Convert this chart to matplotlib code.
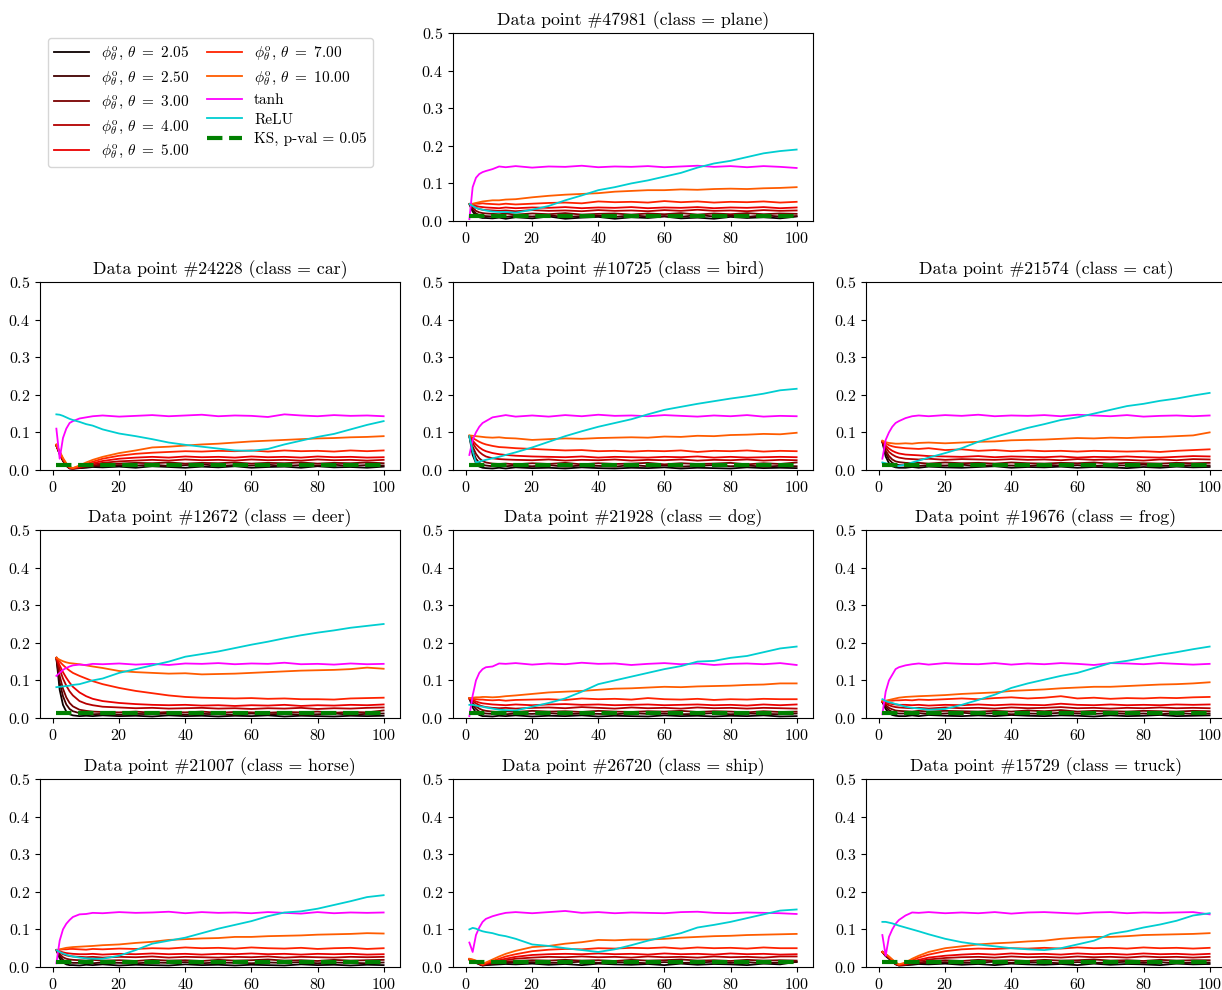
import matplotlib
matplotlib.use("Agg")
import matplotlib.pyplot as plt
import numpy as np

plt.rcParams.update({
    "font.family": "serif",
    "font.serif": ["cmr10"],
    "mathtext.fontset": "cm",
    "axes.formatter.use_mathtext": True,
    "axes.unicode_minus": False,
})

# epochs at which the distances were logged
EPOCHS = [1, 2, 3, 4, 5, 6, 8, 10, 12, 15, 20, 25, 30, 35, 40, 45, 50, 55,
          60, 65, 70, 75, 80, 85, 90, 95, 100]

POINT_IDS = [47981, 24228, 10725, 21574, 12672, 21928, 19676, 21007, 26720, 15729]
CLASSES = ["plane", "car", "bird", "cat", "deer", "dog", "frog", "horse", "ship", "truck"]
THETAS = [2.05, 2.50, 3.00, 4.00, 5.00, 7.00, 10.00]
KS_PVAL = 0.05
KS_CRIT = 0.0136

# one row per data point, same order as POINT_IDS
PHI_205 = [
    [0.045, 0.025, 0.014, 0.010, 0.008, 0.008, 0.007, 0.009, 0.006, 0.010, 0.007, 0.012, 0.006, 0.009, 0.011, 0.006, 0.010, 0.008, 0.012, 0.007, 0.009, 0.006, 0.011, 0.008, 0.010, 0.007, 0.012],
    [0.065, 0.042, 0.024, 0.011, 0.004, 0.004, 0.005, 0.006, 0.008, 0.007, 0.009, 0.006, 0.010, 0.008, 0.006, 0.009, 0.007, 0.010, 0.006, 0.008, 0.009, 0.006, 0.010, 0.007, 0.008, 0.006, 0.009],
    [0.090, 0.040, 0.018, 0.009, 0.006, 0.005, 0.004, 0.006, 0.004, 0.007, 0.005, 0.006, 0.004, 0.007, 0.005, 0.004, 0.006, 0.005, 0.007, 0.004, 0.006, 0.005, 0.004, 0.007, 0.005, 0.006, 0.005],
    [0.075, 0.036, 0.018, 0.010, 0.007, 0.006, 0.006, 0.008, 0.006, 0.009, 0.007, 0.006, 0.008, 0.010, 0.006, 0.008, 0.007, 0.009, 0.006, 0.008, 0.007, 0.005, 0.008, 0.006, 0.009, 0.007, 0.008],
    [0.160, 0.075, 0.035, 0.017, 0.010, 0.007, 0.005, 0.006, 0.005, 0.007, 0.005, 0.006, 0.004, 0.007, 0.005, 0.006, 0.004, 0.006, 0.005, 0.007, 0.004, 0.006, 0.005, 0.004, 0.006, 0.005, 0.006],
    [0.052, 0.028, 0.014, 0.008, 0.005, 0.005, 0.004, 0.006, 0.005, 0.007, 0.004, 0.006, 0.005, 0.007, 0.004, 0.006, 0.005, 0.004, 0.007, 0.005, 0.006, 0.004, 0.006, 0.005, 0.007, 0.004, 0.005],
    [0.043, 0.024, 0.013, 0.008, 0.006, 0.005, 0.005, 0.007, 0.005, 0.008, 0.006, 0.005, 0.007, 0.005, 0.008, 0.006, 0.005, 0.007, 0.006, 0.004, 0.007, 0.005, 0.006, 0.008, 0.005, 0.006, 0.007],
    [0.045, 0.023, 0.012, 0.007, 0.005, 0.005, 0.004, 0.006, 0.005, 0.007, 0.004, 0.006, 0.005, 0.004, 0.007, 0.005, 0.006, 0.004, 0.006, 0.005, 0.004, 0.007, 0.005, 0.006, 0.004, 0.006, 0.005],
    [0.020, 0.014, 0.011, 0.007, 0.004, 0.005, 0.006, 0.007, 0.008, 0.007, 0.009, 0.006, 0.008, 0.005, 0.009, 0.007, 0.006, 0.008, 0.005, 0.009, 0.006, 0.008, 0.007, 0.005, 0.009, 0.007, 0.014],
    [0.040, 0.029, 0.022, 0.014, 0.007, 0.004, 0.005, 0.006, 0.008, 0.007, 0.009, 0.006, 0.008, 0.005, 0.009, 0.007, 0.006, 0.008, 0.005, 0.009, 0.006, 0.008, 0.007, 0.005, 0.009, 0.007, 0.008],
]
PHI_250 = [
    [0.045, 0.030, 0.020, 0.016, 0.014, 0.013, 0.012, 0.013, 0.011, 0.014, 0.012, 0.015, 0.011, 0.013, 0.014, 0.011, 0.015, 0.012, 0.013, 0.011, 0.016, 0.012, 0.014, 0.011, 0.015, 0.012, 0.013],
    [0.065, 0.043, 0.025, 0.012, 0.005, 0.004, 0.005, 0.008, 0.010, 0.011, 0.013, 0.012, 0.014, 0.011, 0.013, 0.015, 0.011, 0.013, 0.012, 0.014, 0.011, 0.013, 0.012, 0.014, 0.011, 0.013, 0.012],
    [0.090, 0.052, 0.030, 0.019, 0.014, 0.012, 0.010, 0.011, 0.010, 0.012, 0.010, 0.013, 0.009, 0.012, 0.011, 0.009, 0.013, 0.010, 0.012, 0.009, 0.011, 0.013, 0.010, 0.012, 0.009, 0.011, 0.010],
    [0.075, 0.045, 0.028, 0.019, 0.015, 0.013, 0.012, 0.013, 0.011, 0.013, 0.012, 0.014, 0.011, 0.013, 0.012, 0.011, 0.014, 0.012, 0.013, 0.011, 0.013, 0.012, 0.014, 0.011, 0.012, 0.013, 0.012],
    [0.160, 0.095, 0.058, 0.036, 0.024, 0.018, 0.013, 0.011, 0.010, 0.011, 0.009, 0.011, 0.010, 0.012, 0.009, 0.011, 0.010, 0.009, 0.012, 0.010, 0.011, 0.009, 0.010, 0.012, 0.009, 0.011, 0.012],
    [0.052, 0.035, 0.024, 0.017, 0.013, 0.012, 0.011, 0.012, 0.010, 0.012, 0.011, 0.013, 0.010, 0.012, 0.011, 0.010, 0.013, 0.011, 0.012, 0.010, 0.011, 0.013, 0.010, 0.012, 0.011, 0.010, 0.012],
    [0.043, 0.030, 0.021, 0.016, 0.013, 0.012, 0.012, 0.011, 0.013, 0.011, 0.012, 0.014, 0.011, 0.013, 0.010, 0.012, 0.011, 0.014, 0.012, 0.011, 0.013, 0.011, 0.012, 0.010, 0.013, 0.011, 0.012],
    [0.045, 0.029, 0.019, 0.014, 0.012, 0.011, 0.011, 0.012, 0.010, 0.012, 0.011, 0.010, 0.012, 0.011, 0.013, 0.010, 0.012, 0.011, 0.010, 0.012, 0.011, 0.013, 0.010, 0.012, 0.011, 0.010, 0.012],
    [0.020, 0.015, 0.012, 0.008, 0.004, 0.006, 0.008, 0.010, 0.011, 0.012, 0.013, 0.011, 0.012, 0.014, 0.011, 0.013, 0.012, 0.010, 0.013, 0.011, 0.012, 0.014, 0.011, 0.013, 0.010, 0.012, 0.013],
    [0.040, 0.030, 0.023, 0.015, 0.008, 0.004, 0.005, 0.008, 0.010, 0.011, 0.013, 0.011, 0.012, 0.014, 0.011, 0.013, 0.012, 0.010, 0.013, 0.011, 0.012, 0.014, 0.011, 0.013, 0.010, 0.012, 0.012],
]
PHI_300 = [
    [0.045, 0.035, 0.027, 0.023, 0.021, 0.020, 0.019, 0.018, 0.020, 0.017, 0.020, 0.018, 0.021, 0.017, 0.019, 0.020, 0.017, 0.020, 0.018, 0.021, 0.017, 0.020, 0.018, 0.021, 0.018, 0.020, 0.019],
    [0.065, 0.044, 0.026, 0.013, 0.005, 0.004, 0.006, 0.009, 0.012, 0.015, 0.017, 0.019, 0.018, 0.020, 0.017, 0.019, 0.018, 0.020, 0.017, 0.019, 0.018, 0.020, 0.017, 0.019, 0.018, 0.020, 0.018],
    [0.090, 0.062, 0.043, 0.031, 0.024, 0.020, 0.017, 0.016, 0.017, 0.015, 0.018, 0.016, 0.019, 0.015, 0.018, 0.016, 0.017, 0.019, 0.015, 0.018, 0.016, 0.017, 0.019, 0.015, 0.018, 0.016, 0.020],
    [0.075, 0.052, 0.037, 0.028, 0.023, 0.021, 0.019, 0.018, 0.019, 0.017, 0.020, 0.018, 0.019, 0.017, 0.020, 0.018, 0.017, 0.019, 0.018, 0.020, 0.017, 0.019, 0.018, 0.017, 0.019, 0.018, 0.019],
    [0.160, 0.112, 0.078, 0.055, 0.040, 0.031, 0.022, 0.019, 0.017, 0.016, 0.015, 0.017, 0.014, 0.016, 0.015, 0.017, 0.014, 0.016, 0.015, 0.014, 0.016, 0.015, 0.017, 0.014, 0.016, 0.015, 0.020],
    [0.052, 0.040, 0.031, 0.025, 0.021, 0.019, 0.017, 0.016, 0.018, 0.016, 0.019, 0.017, 0.018, 0.016, 0.019, 0.017, 0.016, 0.018, 0.017, 0.019, 0.016, 0.018, 0.017, 0.015, 0.018, 0.016, 0.017],
    [0.043, 0.034, 0.027, 0.023, 0.020, 0.019, 0.018, 0.017, 0.019, 0.017, 0.019, 0.018, 0.017, 0.019, 0.017, 0.020, 0.018, 0.021, 0.017, 0.019, 0.018, 0.017, 0.019, 0.018, 0.017, 0.019, 0.018],
    [0.045, 0.034, 0.026, 0.022, 0.020, 0.019, 0.018, 0.017, 0.019, 0.017, 0.018, 0.016, 0.019, 0.017, 0.018, 0.016, 0.019, 0.017, 0.018, 0.020, 0.017, 0.018, 0.016, 0.019, 0.017, 0.018, 0.019],
    [0.020, 0.016, 0.013, 0.008, 0.005, 0.007, 0.010, 0.012, 0.014, 0.016, 0.018, 0.017, 0.019, 0.017, 0.018, 0.016, 0.019, 0.017, 0.018, 0.020, 0.017, 0.018, 0.016, 0.019, 0.017, 0.018, 0.017],
    [0.040, 0.031, 0.024, 0.016, 0.008, 0.005, 0.006, 0.010, 0.012, 0.015, 0.018, 0.016, 0.019, 0.017, 0.018, 0.016, 0.019, 0.017, 0.018, 0.020, 0.017, 0.018, 0.016, 0.019, 0.017, 0.018, 0.018],
]
PHI_400 = [
    [0.045, 0.040, 0.035, 0.032, 0.030, 0.029, 0.028, 0.027, 0.028, 0.026, 0.029, 0.027, 0.028, 0.026, 0.029, 0.027, 0.028, 0.026, 0.029, 0.027, 0.030, 0.027, 0.028, 0.026, 0.029, 0.027, 0.028],
    [0.065, 0.045, 0.027, 0.014, 0.005, 0.004, 0.007, 0.011, 0.015, 0.019, 0.023, 0.025, 0.027, 0.025, 0.028, 0.026, 0.027, 0.025, 0.028, 0.026, 0.027, 0.025, 0.028, 0.026, 0.027, 0.025, 0.027],
    [0.090, 0.072, 0.058, 0.048, 0.041, 0.036, 0.031, 0.029, 0.028, 0.027, 0.026, 0.028, 0.025, 0.027, 0.026, 0.028, 0.025, 0.027, 0.026, 0.028, 0.025, 0.027, 0.026, 0.028, 0.025, 0.027, 0.026],
    [0.076, 0.060, 0.048, 0.041, 0.036, 0.033, 0.030, 0.029, 0.028, 0.030, 0.027, 0.029, 0.028, 0.027, 0.029, 0.027, 0.028, 0.026, 0.029, 0.027, 0.028, 0.027, 0.025, 0.028, 0.026, 0.029, 0.028],
    [0.160, 0.130, 0.105, 0.086, 0.071, 0.060, 0.045, 0.038, 0.034, 0.030, 0.028, 0.026, 0.027, 0.025, 0.026, 0.027, 0.025, 0.026, 0.024, 0.026, 0.025, 0.027, 0.024, 0.026, 0.025, 0.027, 0.028],
    [0.052, 0.045, 0.039, 0.034, 0.031, 0.029, 0.027, 0.026, 0.027, 0.025, 0.027, 0.028, 0.026, 0.029, 0.027, 0.025, 0.028, 0.026, 0.027, 0.025, 0.028, 0.026, 0.027, 0.025, 0.027, 0.026, 0.025],
    [0.043, 0.038, 0.034, 0.031, 0.029, 0.028, 0.027, 0.026, 0.027, 0.025, 0.028, 0.026, 0.027, 0.025, 0.028, 0.026, 0.027, 0.029, 0.026, 0.027, 0.025, 0.027, 0.026, 0.028, 0.026, 0.027, 0.026],
    [0.045, 0.039, 0.034, 0.031, 0.029, 0.028, 0.027, 0.026, 0.027, 0.025, 0.027, 0.026, 0.028, 0.025, 0.027, 0.026, 0.025, 0.027, 0.026, 0.028, 0.025, 0.027, 0.026, 0.025, 0.027, 0.026, 0.027],
    [0.020, 0.017, 0.014, 0.009, 0.005, 0.008, 0.012, 0.015, 0.018, 0.022, 0.025, 0.027, 0.026, 0.028, 0.026, 0.027, 0.025, 0.028, 0.026, 0.027, 0.025, 0.028, 0.026, 0.027, 0.025, 0.028, 0.028],
    [0.040, 0.032, 0.025, 0.017, 0.009, 0.005, 0.007, 0.012, 0.016, 0.020, 0.024, 0.026, 0.027, 0.025, 0.028, 0.026, 0.027, 0.025, 0.028, 0.026, 0.027, 0.025, 0.028, 0.026, 0.027, 0.025, 0.027],
]
PHI_500 = [
    [0.045, 0.043, 0.040, 0.038, 0.037, 0.036, 0.035, 0.034, 0.036, 0.034, 0.036, 0.035, 0.037, 0.034, 0.036, 0.035, 0.037, 0.034, 0.036, 0.035, 0.037, 0.034, 0.036, 0.035, 0.037, 0.034, 0.036],
    [0.066, 0.046, 0.028, 0.015, 0.006, 0.004, 0.008, 0.013, 0.018, 0.024, 0.030, 0.033, 0.035, 0.033, 0.036, 0.034, 0.035, 0.033, 0.036, 0.034, 0.035, 0.033, 0.036, 0.034, 0.035, 0.033, 0.034],
    [0.090, 0.078, 0.068, 0.060, 0.054, 0.050, 0.045, 0.042, 0.040, 0.038, 0.036, 0.035, 0.034, 0.036, 0.033, 0.035, 0.034, 0.033, 0.035, 0.034, 0.036, 0.033, 0.035, 0.033, 0.034, 0.035, 0.034],
    [0.076, 0.065, 0.057, 0.051, 0.047, 0.044, 0.041, 0.040, 0.039, 0.037, 0.036, 0.035, 0.037, 0.034, 0.036, 0.035, 0.034, 0.036, 0.033, 0.035, 0.034, 0.036, 0.034, 0.033, 0.035, 0.037, 0.036],
    [0.160, 0.140, 0.122, 0.107, 0.094, 0.083, 0.068, 0.058, 0.051, 0.045, 0.040, 0.037, 0.035, 0.034, 0.035, 0.033, 0.034, 0.032, 0.034, 0.033, 0.035, 0.032, 0.034, 0.033, 0.035, 0.034, 0.036],
    [0.052, 0.048, 0.044, 0.041, 0.039, 0.038, 0.036, 0.035, 0.034, 0.036, 0.034, 0.036, 0.037, 0.035, 0.036, 0.034, 0.035, 0.036, 0.034, 0.035, 0.036, 0.034, 0.035, 0.033, 0.036, 0.034, 0.036],
    [0.043, 0.041, 0.039, 0.037, 0.036, 0.035, 0.035, 0.034, 0.035, 0.033, 0.035, 0.034, 0.036, 0.034, 0.036, 0.035, 0.034, 0.038, 0.035, 0.034, 0.036, 0.034, 0.035, 0.034, 0.036, 0.035, 0.036],
    [0.045, 0.042, 0.039, 0.037, 0.036, 0.035, 0.034, 0.034, 0.035, 0.033, 0.035, 0.034, 0.036, 0.034, 0.035, 0.033, 0.035, 0.034, 0.036, 0.034, 0.035, 0.033, 0.035, 0.034, 0.035, 0.033, 0.034],
    [0.020, 0.018, 0.015, 0.010, 0.006, 0.009, 0.014, 0.018, 0.022, 0.027, 0.032, 0.034, 0.035, 0.034, 0.036, 0.034, 0.035, 0.033, 0.036, 0.034, 0.035, 0.033, 0.036, 0.034, 0.035, 0.033, 0.034],
    [0.040, 0.033, 0.026, 0.018, 0.010, 0.005, 0.008, 0.014, 0.019, 0.025, 0.030, 0.033, 0.035, 0.033, 0.036, 0.034, 0.035, 0.033, 0.036, 0.034, 0.035, 0.033, 0.036, 0.034, 0.035, 0.033, 0.035],
]
PHI_700 = [
    [0.045, 0.045, 0.046, 0.046, 0.047, 0.046, 0.045, 0.044, 0.046, 0.044, 0.046, 0.048, 0.049, 0.047, 0.052, 0.050, 0.051, 0.049, 0.053, 0.050, 0.052, 0.049, 0.051, 0.050, 0.052, 0.049, 0.051],
    [0.067, 0.048, 0.030, 0.016, 0.007, 0.005, 0.010, 0.016, 0.022, 0.030, 0.038, 0.043, 0.046, 0.048, 0.050, 0.049, 0.051, 0.050, 0.052, 0.049, 0.052, 0.050, 0.051, 0.049, 0.052, 0.050, 0.052],
    [0.091, 0.085, 0.080, 0.075, 0.071, 0.068, 0.064, 0.061, 0.060, 0.058, 0.056, 0.054, 0.052, 0.053, 0.050, 0.051, 0.049, 0.051, 0.050, 0.052, 0.048, 0.051, 0.050, 0.052, 0.049, 0.051, 0.050],
    [0.077, 0.071, 0.066, 0.063, 0.061, 0.060, 0.058, 0.057, 0.056, 0.058, 0.053, 0.055, 0.051, 0.053, 0.050, 0.052, 0.050, 0.051, 0.049, 0.051, 0.050, 0.049, 0.050, 0.048, 0.051, 0.053, 0.055],
    [0.160, 0.150, 0.141, 0.133, 0.126, 0.120, 0.112, 0.105, 0.098, 0.090, 0.080, 0.072, 0.066, 0.060, 0.056, 0.054, 0.053, 0.052, 0.053, 0.051, 0.052, 0.050, 0.050, 0.049, 0.052, 0.053, 0.054],
    [0.052, 0.051, 0.050, 0.049, 0.049, 0.048, 0.047, 0.048, 0.046, 0.048, 0.049, 0.050, 0.048, 0.052, 0.050, 0.051, 0.049, 0.053, 0.050, 0.049, 0.051, 0.048, 0.050, 0.049, 0.051, 0.050, 0.050],
    [0.044, 0.045, 0.046, 0.046, 0.047, 0.047, 0.048, 0.047, 0.049, 0.048, 0.050, 0.052, 0.050, 0.053, 0.055, 0.052, 0.054, 0.058, 0.052, 0.054, 0.051, 0.053, 0.052, 0.054, 0.053, 0.055, 0.056],
    [0.045, 0.046, 0.047, 0.047, 0.048, 0.048, 0.047, 0.046, 0.048, 0.047, 0.049, 0.048, 0.050, 0.049, 0.052, 0.050, 0.051, 0.049, 0.052, 0.050, 0.049, 0.051, 0.048, 0.050, 0.051, 0.048, 0.050],
    [0.021, 0.019, 0.016, 0.011, 0.007, 0.010, 0.016, 0.022, 0.028, 0.034, 0.042, 0.046, 0.048, 0.047, 0.050, 0.049, 0.051, 0.050, 0.052, 0.049, 0.052, 0.050, 0.051, 0.049, 0.052, 0.050, 0.050],
    [0.040, 0.034, 0.027, 0.019, 0.011, 0.006, 0.010, 0.018, 0.025, 0.033, 0.042, 0.047, 0.049, 0.048, 0.050, 0.049, 0.051, 0.049, 0.052, 0.050, 0.051, 0.049, 0.052, 0.050, 0.051, 0.049, 0.051],
]
PHI_1000 = [
    [0.045, 0.046, 0.048, 0.050, 0.052, 0.053, 0.055, 0.055, 0.057, 0.058, 0.063, 0.067, 0.070, 0.072, 0.074, 0.078, 0.080, 0.082, 0.082, 0.084, 0.083, 0.085, 0.086, 0.085, 0.087, 0.088, 0.090],
    [0.068, 0.050, 0.032, 0.018, 0.008, 0.005, 0.012, 0.020, 0.027, 0.035, 0.045, 0.052, 0.060, 0.062, 0.065, 0.068, 0.070, 0.073, 0.076, 0.078, 0.080, 0.082, 0.084, 0.085, 0.087, 0.088, 0.090],
    [0.092, 0.091, 0.090, 0.089, 0.088, 0.087, 0.086, 0.087, 0.085, 0.084, 0.080, 0.082, 0.084, 0.083, 0.085, 0.086, 0.087, 0.086, 0.089, 0.088, 0.091, 0.090, 0.093, 0.094, 0.096, 0.095, 0.099],
    [0.078, 0.074, 0.072, 0.071, 0.070, 0.070, 0.071, 0.070, 0.072, 0.073, 0.071, 0.073, 0.075, 0.076, 0.079, 0.080, 0.081, 0.083, 0.085, 0.084, 0.086, 0.085, 0.087, 0.088, 0.090, 0.092, 0.100],
    [0.160, 0.155, 0.151, 0.148, 0.146, 0.145, 0.143, 0.140, 0.137, 0.133, 0.125, 0.122, 0.120, 0.118, 0.119, 0.116, 0.117, 0.118, 0.120, 0.122, 0.124, 0.126, 0.127, 0.128, 0.130, 0.134, 0.131],
    [0.053, 0.054, 0.055, 0.055, 0.056, 0.056, 0.055, 0.056, 0.058, 0.060, 0.064, 0.068, 0.070, 0.072, 0.075, 0.078, 0.079, 0.081, 0.083, 0.082, 0.084, 0.085, 0.086, 0.088, 0.089, 0.092, 0.092],
    [0.045, 0.046, 0.048, 0.050, 0.052, 0.054, 0.056, 0.057, 0.058, 0.059, 0.061, 0.064, 0.066, 0.068, 0.072, 0.074, 0.076, 0.079, 0.081, 0.083, 0.083, 0.085, 0.087, 0.089, 0.090, 0.092, 0.095],
    [0.045, 0.047, 0.049, 0.051, 0.052, 0.053, 0.054, 0.055, 0.056, 0.058, 0.060, 0.064, 0.067, 0.072, 0.074, 0.076, 0.077, 0.080, 0.080, 0.082, 0.083, 0.084, 0.086, 0.087, 0.088, 0.090, 0.089],
    [0.022, 0.020, 0.017, 0.012, 0.008, 0.012, 0.020, 0.028, 0.035, 0.043, 0.053, 0.056, 0.062, 0.066, 0.072, 0.071, 0.073, 0.073, 0.075, 0.078, 0.080, 0.082, 0.083, 0.085, 0.086, 0.087, 0.088],
    [0.040, 0.035, 0.028, 0.020, 0.012, 0.007, 0.012, 0.022, 0.030, 0.040, 0.050, 0.055, 0.060, 0.063, 0.065, 0.068, 0.070, 0.075, 0.078, 0.080, 0.080, 0.082, 0.085, 0.086, 0.087, 0.088, 0.090],
]
TANH = [
    [0.005, 0.090, 0.115, 0.125, 0.130, 0.133, 0.138, 0.145, 0.143, 0.146, 0.142, 0.145, 0.144, 0.147, 0.143, 0.145, 0.144, 0.146, 0.143, 0.145, 0.147, 0.144, 0.146, 0.143, 0.146, 0.144, 0.141],
    [0.110, 0.030, 0.085, 0.110, 0.125, 0.130, 0.137, 0.140, 0.143, 0.145, 0.142, 0.144, 0.146, 0.143, 0.145, 0.147, 0.143, 0.145, 0.144, 0.141, 0.148, 0.145, 0.143, 0.146, 0.144, 0.145, 0.143],
    [0.040, 0.080, 0.100, 0.115, 0.125, 0.130, 0.140, 0.143, 0.146, 0.142, 0.145, 0.142, 0.146, 0.143, 0.147, 0.144, 0.145, 0.143, 0.146, 0.144, 0.142, 0.145, 0.143, 0.146, 0.142, 0.144, 0.143],
    [0.030, 0.080, 0.100, 0.115, 0.125, 0.130, 0.138, 0.143, 0.145, 0.143, 0.146, 0.144, 0.147, 0.143, 0.145, 0.144, 0.146, 0.143, 0.147, 0.145, 0.143, 0.146, 0.142, 0.144, 0.145, 0.143, 0.145],
    [0.112, 0.120, 0.128, 0.133, 0.137, 0.140, 0.142, 0.141, 0.144, 0.143, 0.145, 0.142, 0.144, 0.141, 0.145, 0.144, 0.146, 0.143, 0.145, 0.144, 0.147, 0.143, 0.144, 0.142, 0.145, 0.143, 0.144],
    [0.005, 0.060, 0.100, 0.120, 0.130, 0.135, 0.137, 0.145, 0.144, 0.146, 0.142, 0.145, 0.143, 0.147, 0.144, 0.145, 0.141, 0.144, 0.146, 0.143, 0.145, 0.141, 0.144, 0.145, 0.143, 0.146, 0.141],
    [0.010, 0.070, 0.100, 0.115, 0.130, 0.135, 0.140, 0.143, 0.145, 0.142, 0.146, 0.144, 0.143, 0.146, 0.142, 0.145, 0.143, 0.146, 0.144, 0.141, 0.146, 0.145, 0.143, 0.146, 0.144, 0.142, 0.144],
    [0.010, 0.070, 0.100, 0.115, 0.125, 0.133, 0.140, 0.141, 0.144, 0.143, 0.146, 0.144, 0.145, 0.147, 0.143, 0.146, 0.144, 0.145, 0.143, 0.146, 0.144, 0.142, 0.146, 0.143, 0.145, 0.144, 0.145],
    [0.065, 0.040, 0.085, 0.105, 0.120, 0.128, 0.135, 0.140, 0.144, 0.146, 0.143, 0.146, 0.149, 0.144, 0.146, 0.143, 0.145, 0.144, 0.143, 0.146, 0.147, 0.144, 0.143, 0.145, 0.144, 0.143, 0.141],
    [0.085, 0.030, 0.080, 0.100, 0.115, 0.125, 0.137, 0.145, 0.144, 0.146, 0.143, 0.145, 0.143, 0.146, 0.142, 0.145, 0.146, 0.144, 0.142, 0.145, 0.146, 0.143, 0.145, 0.144, 0.145, 0.146, 0.140],
]
RELU = [
    [0.045, 0.040, 0.035, 0.032, 0.030, 0.028, 0.025, 0.024, 0.024, 0.022, 0.030, 0.040, 0.055, 0.068, 0.082, 0.090, 0.100, 0.108, 0.118, 0.128, 0.142, 0.153, 0.160, 0.170, 0.180, 0.186, 0.190],
    [0.148, 0.147, 0.144, 0.140, 0.136, 0.133, 0.128, 0.122, 0.118, 0.108, 0.097, 0.090, 0.082, 0.073, 0.067, 0.062, 0.057, 0.052, 0.051, 0.056, 0.068, 0.078, 0.088, 0.096, 0.108, 0.120, 0.130],
    [0.090, 0.050, 0.020, 0.022, 0.025, 0.027, 0.031, 0.035, 0.040, 0.047, 0.060, 0.075, 0.090, 0.103, 0.115, 0.125, 0.135, 0.148, 0.160, 0.168, 0.176, 0.183, 0.190, 0.196, 0.203, 0.212, 0.216],
    [0.020, 0.018, 0.015, 0.012, 0.010, 0.011, 0.014, 0.020, 0.025, 0.033, 0.045, 0.058, 0.075, 0.088, 0.100, 0.112, 0.122, 0.133, 0.140, 0.150, 0.160, 0.170, 0.176, 0.184, 0.190, 0.198, 0.205],
    [0.082, 0.083, 0.084, 0.085, 0.086, 0.088, 0.090, 0.095, 0.100, 0.105, 0.120, 0.130, 0.140, 0.150, 0.163, 0.170, 0.177, 0.186, 0.195, 0.203, 0.212, 0.220, 0.227, 0.233, 0.240, 0.245, 0.250],
    [0.035, 0.035, 0.033, 0.031, 0.030, 0.028, 0.025, 0.022, 0.021, 0.020, 0.030, 0.040, 0.052, 0.070, 0.090, 0.100, 0.110, 0.120, 0.130, 0.138, 0.150, 0.152, 0.160, 0.165, 0.175, 0.185, 0.190],
    [0.050, 0.045, 0.042, 0.040, 0.037, 0.035, 0.030, 0.027, 0.025, 0.022, 0.024, 0.035, 0.048, 0.062, 0.080, 0.092, 0.102, 0.112, 0.120, 0.133, 0.146, 0.152, 0.160, 0.168, 0.175, 0.183, 0.190],
    [0.045, 0.040, 0.036, 0.033, 0.030, 0.028, 0.025, 0.023, 0.022, 0.022, 0.030, 0.045, 0.062, 0.070, 0.078, 0.090, 0.102, 0.112, 0.122, 0.135, 0.145, 0.148, 0.155, 0.165, 0.175, 0.186, 0.191],
    [0.100, 0.104, 0.102, 0.098, 0.095, 0.093, 0.090, 0.085, 0.082, 0.075, 0.060, 0.056, 0.050, 0.045, 0.040, 0.047, 0.058, 0.070, 0.080, 0.090, 0.105, 0.112, 0.120, 0.130, 0.140, 0.150, 0.153],
    [0.120, 0.120, 0.118, 0.116, 0.113, 0.110, 0.105, 0.100, 0.095, 0.087, 0.075, 0.066, 0.060, 0.055, 0.050, 0.047, 0.045, 0.050, 0.060, 0.070, 0.088, 0.095, 0.105, 0.113, 0.123, 0.137, 0.143],
]

PHI_SERIES = [PHI_205, PHI_250, PHI_300, PHI_400, PHI_500, PHI_700, PHI_1000]
PHI_COLORS = plt.cm.hot(np.linspace(0.0, 0.5, len(THETAS)))

# grid slot (row, col) of each panel; the top-left slot holds the legend
SLOTS = [(0, 1), (1, 0), (1, 1), (1, 2), (2, 0), (2, 1), (2, 2), (3, 0), (3, 1), (3, 2)]

W, H = 1222, 990
COL_LEFT = [40, 453, 866]
ROW_TOP = [33, 282, 530, 779]
AX_W, AX_H = 360, 188

fig = plt.figure(figsize=(W / 100, H / 100), dpi=100)

handles = None
for i, (r, c) in enumerate(SLOTS):
    ax = fig.add_axes([COL_LEFT[c] / W, 1 - (ROW_TOP[r] + AX_H) / H, AX_W / W, AX_H / H])
    for th, series, col in zip(THETAS, PHI_SERIES, PHI_COLORS):
        ax.plot(EPOCHS, series[i], color=col, lw=1.3,
                label=r"$\phi^{\mathrm{o}}_{\theta}$, $\theta\ =\ %.2f$" % th)
    ax.plot(EPOCHS, TANH[i], color="#ff00ff", lw=1.3, label="tanh")
    ax.plot(EPOCHS, RELU[i], color="#00ced1", lw=1.3, label="ReLU")
    ax.plot([EPOCHS[0], EPOCHS[-1]], [KS_CRIT, KS_CRIT], color="green", lw=3,
            ls="--", label="KS, p-val = %.2f" % KS_PVAL)
    ax.set_ylim(0, 0.5)
    ax.set_title("Data point #%d (class = %s)" % (POINT_IDS[i], CLASSES[i]), fontsize=12.8)
    ax.tick_params(labelsize=11.5)
    if handles is None:
        handles, labels = ax.get_legend_handles_labels()

fig.legend(handles, labels, loc="upper left", bbox_to_anchor=(48 / W, 1 - 38 / H),
           borderaxespad=0, ncol=2, fontsize=11, handlelength=2.3,
           columnspacing=1.1, labelspacing=0.38)

fig.savefig("out.png", dpi=100)
